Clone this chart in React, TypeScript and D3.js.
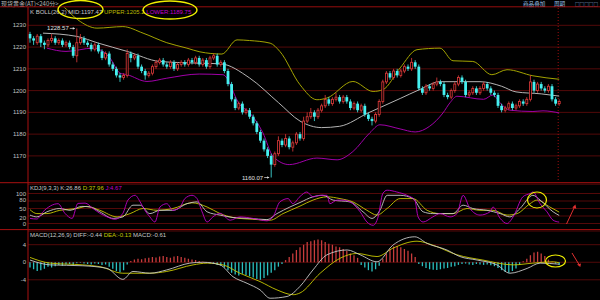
import React from 'react';
import * as d3 from 'd3';

// [open, high, low, close]
const candles: [number, number, number, number][] = [
  [1226,1227,1222,1224],[1224,1225,1221,1223],[1222,1226,1221,1225],[1225,1226,1220,1222],
  [1222,1223,1219,1221],[1221,1224,1220,1223],[1223,1226,1222,1224],[1224,1225,1221,1222],
  [1222,1224,1221,1223],[1223,1224,1220,1221],[1221,1223,1220,1222],[1222,1223,1219,1220],
  [1220,1221,1215,1216],[1216,1228.57,1213,1222],[1222,1226,1221,1224],[1224,1225,1221,1222],
  [1222,1223,1220,1221],[1221,1222,1218,1219],[1219,1222,1218,1221],[1221,1222,1217,1218],
  [1218,1219,1214,1215],[1215,1218,1214,1217],[1217,1218,1211,1212],[1212,1213,1209,1210],
  [1210,1211,1206,1207],[1207,1208,1204,1206],[1206,1208,1205,1207],[1207,1219,1206,1217],
  [1217,1218,1213,1215],[1215,1217,1214,1216],[1216,1217,1210,1211],[1211,1212,1208,1209],
  [1209,1210,1205,1207],[1207,1209,1206,1208],[1208,1212,1207,1211],[1211,1214,1210,1213],
  [1213,1215,1212,1214],[1214,1215,1211,1212],[1212,1213,1210,1211],[1211,1214,1210,1213],
  [1213,1214,1209,1210],[1210,1213,1209,1212],[1212,1214,1211,1213],[1213,1214,1211,1212],
  [1212,1215,1211,1214],[1214,1215,1212,1213],[1213,1216,1212,1215],[1215,1216,1211,1212],
  [1212,1215,1211,1214],[1214,1215,1210,1211],[1211,1216,1210,1215],[1215,1217,1214,1216],
  [1216,1217,1211,1212],[1212,1214,1211,1213],[1213,1214,1208,1209],[1209,1210,1202,1203],
  [1203,1204,1195,1196],[1196,1197,1191,1192],[1192,1195,1191,1194],[1194,1195,1189,1190],
  [1190,1192,1189,1191],[1191,1192,1187,1188],[1188,1189,1184,1185],[1185,1186,1180,1181],
  [1181,1182,1176,1177],[1177,1178,1172,1173],[1173,1174,1169,1170],[1170,1171,1160.07,1166],
  [1166,1172,1165,1171],[1171,1179,1170,1177],[1177,1178,1174,1175],[1175,1180,1174,1178],
  [1178,1179,1173,1174],[1174,1177,1172,1176],[1176,1181,1175,1180],[1180,1181,1177,1178],
  [1178,1188,1177,1186],[1186,1190,1185,1188],[1188,1192,1187,1190],[1190,1191,1186,1188],
  [1188,1192,1187,1191],[1191,1194,1190,1193],[1193,1198,1192,1196],[1196,1197,1193,1194],
  [1194,1197,1193,1196],[1196,1199,1195,1197],[1197,1198,1194,1195],[1195,1198,1194,1197],
  [1197,1198,1194,1195],[1195,1196,1191,1192],[1192,1195,1191,1194],[1194,1195,1190,1191],
  [1191,1194,1190,1193],[1193,1194,1188,1189],[1189,1190,1186,1187],[1187,1188,1184,1186],
  [1186,1190,1185,1189],[1189,1196,1188,1195],[1195,1205,1194,1204],[1204,1209,1203,1208],
  [1208,1209,1205,1206],[1206,1210,1205,1209],[1209,1210,1206,1207],[1207,1210,1206,1209],
  [1209,1212,1208,1211],[1211,1212,1209,1210],[1210,1215,1209,1213],[1213,1214,1210,1211],
  [1211,1212,1200,1201],[1201,1202,1198,1199],[1199,1203,1198,1202],[1202,1203,1200,1201],
  [1201,1204,1200,1203],[1203,1206,1202,1204],[1204,1205,1202,1203],[1203,1204,1197,1198],
  [1198,1199,1196,1197],[1197,1201,1196,1200],[1200,1204,1199,1203],[1203,1207,1202,1206],
  [1206,1207,1203,1204],[1204,1205,1197,1198],[1198,1200,1197,1199],[1199,1202,1198,1201],
  [1201,1202,1198,1199],[1199,1202,1198,1201],[1201,1204,1200,1203],[1203,1204,1200,1201],
  [1201,1202,1198,1199],[1199,1200,1197,1198],[1198,1199,1192,1193],[1193,1194,1190,1191],
  [1191,1193,1190,1192],[1192,1195,1191,1194],[1194,1195,1191,1192],[1192,1194,1191,1193],
  [1193,1196,1192,1195],[1195,1196,1193,1194],[1194,1197,1193,1196],[1196,1207,1195,1204],
  [1204,1205,1199,1200],[1200,1204,1199,1203],[1203,1204,1200,1201],[1201,1202,1199,1200],
  [1200,1203,1199,1202],[1202,1203,1195,1196],[1196,1197,1193,1194],[1194,1196,1193,1195],
];

// [bar index, value]
const bollUpper: [number, number][] = [
  [4,1244],[9,1239],[13.3,1232.5],[18.6,1228.7],[25.8,1229.4],[31.4,1226.4],[38,1222],[43.6,1219.5],
  [47.2,1217.8],[53.3,1216.8],[57.5,1223.3],[61,1223],[66.7,1221.8],[69.4,1218],[75,1202.7],
  [79.7,1195.8],[82.5,1196.6],[89.7,1204.2],[95.3,1199.6],[98,1200.4],[102.8,1210.4],[107.5,1218.8],
  [113.9,1219.5],[117.5,1213.7],[123,1213.4],[128.3,1207.3],[132.5,1209.6],[139.7,1206.8],[147,1205.2],
];
const bollMid: [number, number][] = [
  [3.6,1226.4],[13,1224.9],[19,1221.8],[27,1218],[36,1213.4],[47,1212.6],[53,1212.3],[61,1205.8],
  [69,1194.5],[75,1186],[81,1183],[86,1183.6],[94,1189.8],[103,1196.5],[108,1200.3],[114,1204.1],
  [125,1204.1],[131,1202],[135,1199.4],[142,1198.5],[147,1197.47],
];
const bollLower: [number, number][] = [
  [4.7,1219.5],[10,1218],[17.5,1219.5],[22.2,1215],[25,1208],[27,1207.3],[32.5,1204.2],[38,1205.7],
  [47,1207.6],[53.6,1207.3],[58.3,1193.5],[61,1189.8],[64.7,1180.6],[67.5,1169.8],[72,1166],
  [79.7,1169],[85.3,1168.2],[89.7,1172],[94.4,1180.6],[97.2,1184.3],[102.8,1182.4],[107,1181],
  [111,1183.6],[114.7,1189.7],[116.7,1194.5],[118.6,1197.4],[126,1196],[128.6,1198],[130.5,1194.5],
  [133.3,1191],[139.7,1190.4],[142.5,1190.7],[147,1189.75],
];

const kdjK: [number, number][] = [
  [0,28],[1.9,22],[4.7,39],[8.3,50],[11.1,44],[14.4,57],[16.7,55],[19.4,39],[23.1,17],[25.8,22],
  [28.6,61],[30.6,61],[33.3,33],[36.1,44],[39.7,44],[43.6,66],[46.4,72],[49.2,39],[52.8,28],[56.4,20],
  [61.1,17],[65.8,13],[68.6,33],[72.2,55],[75,70],[78.6,89],[81.4,94],[84.2,78],[88.9,72],[92.5,39],
  [95,17],[97.2,44],[99.2,94],[102.8,94],[106.4,83],[109.2,39],[111.9,33],[117.5,33],[120.3,61],
  [123,50],[126.9,44],[130.6,33],[133.3,22],[136.1,50],[139.7,94],[141.7,78],[145.3,39],[147,26.86],
];
const kdjD: [number, number][] = [
  [0,46],[1.9,33],[4.7,33],[8.3,44],[13.1,50],[15.8,57],[19.4,44],[24.2,22],[27.8,33],[31.4,50],
  [35.3,44],[39.7,50],[45,69],[49.2,55],[52.8,33],[56.4,20],[61.9,14],[66.7,11],[70.3,33],[75,58],
  [78.6,78],[82.5,89],[86.1,83],[89.7,72],[93.6,44],[96.4,28],[99.2,50],[102.8,83],[106.4,83],
  [110.3,44],[113.9,33],[117.5,33],[121.4,50],[125,44],[128.6,44],[132.5,28],[135.3,33],[138.9,66],
  [140.8,78],[144.4,55],[147,37.96],
];
const kdjJ: [number, number][] = [
  [0,17],[1.9,15],[3.6,39],[7.8,66],[9.7,34],[11.7,17],[13.3,67],[15.3,68],[17.5,50],[19.4,34],
  [21.4,22],[23.6,14],[25.8,34],[27.2,78],[29.2,94],[30.6,72],[31.9,44],[33.3,22],[34.7,5],[36.1,55],
  [38,66],[39.7,44],[41.7,55],[43,83],[45,94],[46.4,83],[47.8,39],[49.2,5],[50.8,22],[52.8,34],
  [55.6,11],[58.3,22],[61.9,17],[65.8,9],[67.5,22],[69.4,72],[71.7,83],[73,66],[75,90],[76.9,105],
  [78.6,89],[80.6,94],[82.5,94],[83.3,66],[85.3,78],[86.9,78],[88.9,72],[91.7,39],[93.6,5],[95.3,-6],
  [96.7,22],[98,100],[99.2,111],[101.9,105],[104.7,94],[106.9,78],[107.8,22],[109.2,5],[111.9,22],
  [113.9,33],[116.7,22],[118.6,33],[120.3,94],[122.2,50],[125,28],[127.8,39],[128.6,55],[130.6,17],
  [132.5,0],[134.2,22],[136.9,89],[138.9,100],[139.7,105],[141.7,66],[143.6,39],[145.3,11],[147,4.67],
];

const macdDiff: [number, number][] = [
  [0,0.5],[5.6,-0.6],[14.7,-0.8],[21.4,-1.4],[25.8,-3.9],[28.6,-2.1],[33.3,-2.5],[38,-1.75],[44.4,-0.2],
  [48,0],[52.8,-0.6],[56.4,-3.3],[60.3,-4.8],[63.9,-6.3],[66.7,-8.2],[71.4,-7.8],[75,-5.5],[78.6,-1.75],
  [82.5,1.7],[88.1,2.8],[91.7,1.7],[96.4,0.1],[100.8,3.9],[106.9,5.8],[110.3,4.3],[115.8,2.8],
  [119.4,1.3],[124.2,0.5],[129.7,-0.6],[133.3,-2.5],[138.1,-1.4],[141.7,-0.2],[147,-0.44],
];
const macdDea: [number, number][] = [
  [0,1.1],[5.6,-0.2],[14.7,-0.6],[19.4,-1.0],[25.8,-2.5],[33.3,-2.5],[38,-2.1],[45.3,-0.6],[49.2,-0.2],
  [53.6,-0.6],[58.3,-2.5],[63.9,-4.4],[68.6,-6.3],[73.1,-7.4],[75,-7.0],[80.6,-2.5],[86.1,0.9],
  [90.8,2.0],[96.4,1.3],[100.8,3.2],[107.5,4.8],[111.9,3.9],[118.6,1.7],[125.8,0.5],[134.2,-0.6],
  [139.7,-0.2],[145.3,0.1],[147,-0.13],
];
const macdHist: number[] = [
  -1.2,-1.6,-2.0,-1.8,-1.5,-1.0,-1.2,-0.9,-0.6,-0.8,-0.5,-0.4,-0.6,
  -0.2,-0.1,-0.3,-0.4,-0.5,-0.3,-0.4,
  -0.6,-0.5,-1.0,-1.5,-2.0,-2.3,-1.8,-0.5,
  0.3,0.6,0.8,0.7,0.9,1.0,1.2,1.1,1.3,1.4,1.2,1.0,1.3,1.4,1.2,1.0,0.8,0.6,0.5,0.3,
  0.1,-0.1,-0.2,
  -0.4,-0.6,-0.8,-1.2,-1.8,-2.4,-2.8,-3.0,-2.6,-2.9,-3.2,-3.5,-3.8,-4.0,-3.6,-3.0,-2.4,-1.8,-1.0,-0.4,
  0.5,1.2,2.0,2.8,3.4,4.0,4.6,4.8,5.0,5.2,5.0,4.6,4.2,4.0,3.6,3.4,3.0,2.6,2.0,1.6,1.0,
  -0.6,-1.2,-1.8,-2.1,-1.6,-0.8,
  0.8,2.0,3.0,3.6,3.7,3.4,3.0,2.6,2.0,1.2,
  -0.4,-0.9,-1.3,-1.6,-1.7,-1.75,-1.6,-1.4,-1.3,-1.0,-0.9,-0.6,-0.4,
  -0.3,-0.5,-0.6,-0.4,-0.5,-0.6,-0.5,-0.7,-0.9,-1.3,
  -1.8,-2.2,-2.4,-2.0,-1.4,-0.6,
  0.2,
  0.8,1.6,2.2,2.4,2.0,1.4,
  0.6,0.1,-0.3,-0.61,
];

const priceTicks = [1230, 1220, 1210, 1200, 1190, 1180, 1170];
const kdjTicks = [100, 80, 50, 20, 0];
const kdjGrid = [100, 75, 50, 25, 0];
const macdTicks = [4, 0, -4];
const highMark = { index: 13, value: 1228.57 };
const lowMark = { index: 67, value: 1160.07 };
const bollLegend = { mid: 1197.47, upper: 1205.2, lower: 1189.75 };
const kdjLegend = { k: 26.86, d: 37.96, j: 4.67 };
const macdLegend = { diff: -0.44, dea: -0.13, macd: -0.61 };
const titleText = '现货黄金(AT)<240分>';
const headerButtons = ['商品叠加', '周期', '□□□□□'];

const RED = '#e23b3b';
const CYAN = '#45f0f0';
const GRID = '#5c0a0a';
const BORDER = '#a81010';
const FONT = '"Liberation Sans", Arial, sans-serif';
const CJK = '"Noto Sans CJK SC", sans-serif';

export default function App() {
  const W = 600, H = 300;
  const x = d3.scaleLinear().domain([0, candles.length - 1]).range([30, 559.2]);
  const yP = d3.scaleLinear().domain([1170, 1230]).range([155.9, 25.3]);
  const yK = d3.scaleLinear().domain([0, 100]).range([223.5, 193.5]);
  const yM = d3.scaleLinear().domain([-4, 4]).range([279.8, 244.7]);

  const mkLine = (ys: d3.ScaleLinear<number, number>) =>
    d3.line<[number, number]>().x(d => x(d[0])).y(d => ys(d[1])).curve(d3.curveMonotoneX);
  const lineP = mkLine(yP);
  const lineK = mkLine(yK);
  const lineM = mkLine(yM);

  const bw = 2.8;
  const left = 28;
  const btnX = [523, 554, 575];
  const btnF = [5.6, 5.6, 4.6];

  return (
    <svg width={W} height={H} style={{ position: 'absolute', left: 0, top: 0, background: '#000', display: 'block' }}>
      <defs>
        <clipPath id="cMain"><rect x={left + 0.5} y={7.5} width={W - left} height={175} /></clipPath>
        <clipPath id="cKdj"><rect x={left + 0.5} y={184} width={W - left} height={45} /></clipPath>
        <clipPath id="cMacd"><rect x={left + 0.5} y={230.5} width={W - left} height={70} /></clipPath>
      </defs>
      <rect x={0} y={0} width={W} height={H} fill="#000" />

      {/* header */}
      <text x={1} y={5.5} fontSize={6} fill="#b8b8b8" fontFamily={CJK}>{titleText}</text>
      {headerButtons.map((t, i) => (
        <text key={t} x={btnX[i]} y={5.8} fontSize={btnF[i]} fill="#9fc3e8" fontFamily={CJK}>{t}</text>
      ))}
      <line x1={0} x2={W} y1={6.8} y2={6.8} stroke={BORDER} strokeWidth={0.9} />

      {/* grid main */}
      {priceTicks.map(v => (
        <g key={v}>
          <line x1={left} x2={W} y1={yP(v)} y2={yP(v)} stroke={GRID} strokeWidth={0.9} />
          <text x={26} y={yP(v) + 2} fontSize={6} textAnchor="end" fill="#c0c0c0" fontFamily={FONT}>{v}</text>
        </g>
      ))}
      {/* grid kdj */}
      <line x1={left} x2={W} y1={184.2} y2={184.2} stroke={GRID} strokeWidth={0.9} />
      {kdjGrid.map(v => (
        <line key={v} x1={left} x2={W} y1={yK(v)} y2={yK(v)} stroke={GRID} strokeWidth={0.9} />
      ))}
      {kdjTicks.map(v => (
        <text key={v} x={26} y={yK(v) + 2} fontSize={6} textAnchor="end" fill="#c0c0c0" fontFamily={FONT}>{v}</text>
      ))}
      {/* grid macd */}
      {macdTicks.map(v => (
        <g key={v}>
          <line x1={left} x2={W} y1={yM(v)} y2={yM(v)} stroke={GRID} strokeWidth={0.9} />
          <text x={26} y={yM(v) + 2} fontSize={6} textAnchor="end" fill="#c0c0c0" fontFamily={FONT}>{v}</text>
        </g>
      ))}

      {/* borders */}
      <line x1={0} x2={W} y1={182.7} y2={182.7} stroke={BORDER} strokeWidth={1} />
      <line x1={0} x2={W} y1={229.6} y2={229.6} stroke={BORDER} strokeWidth={1} />
      <line x1={left} x2={W} y1={231} y2={231} stroke={GRID} strokeWidth={0.9} />
      <line x1={left} x2={left} y1={7} y2={H} stroke={BORDER} strokeWidth={1} />

      {/* main panel */}
      <g clipPath="url(#cMain)">
        <line x1={x(candles.length - 1) - 1} x2={x(candles.length - 1) - 1} y1={8} y2={182}
          stroke="#b01010" strokeWidth={0.9} strokeDasharray="1,2" />
        <path d={lineP(bollUpper) || ''} fill="none" stroke="#a3a300" strokeWidth={1} />
        <path d={lineP(bollMid) || ''} fill="none" stroke="#b4b4b4" strokeWidth={1} />
        <path d={lineP(bollLower) || ''} fill="none" stroke="#a000a8" strokeWidth={1} />
        {candles.map(([o, h, l, c], i) => {
          const cx = x(i);
          const up = c >= o;
          const top = yP(Math.max(o, c));
          const bot = yP(Math.min(o, c));
          const col = up ? RED : CYAN;
          return (
            <g key={i}>
              <line x1={cx} x2={cx} y1={yP(h)} y2={yP(l)} stroke={col} strokeWidth={0.8} />
              {up ? (
                <rect x={cx - bw / 2 + 0.4} y={top} width={bw - 0.8} height={Math.max(0.6, bot - top)}
                  fill="#000" stroke={col} strokeWidth={0.8} />
              ) : (
                <rect x={cx - bw / 2} y={top} width={bw} height={Math.max(0.8, bot - top)} fill={col} />
              )}
            </g>
          );
        })}
        {/* extremes */}
        <text x={x(highMark.index) - 8} y={yP(highMark.value) + 2} fontSize={6} textAnchor="end" fill="#e0e0e0" fontFamily={FONT}>{highMark.value.toFixed(2)}</text>
        <line x1={x(highMark.index) - 7} x2={x(highMark.index) - 2} y1={yP(highMark.value)} y2={yP(highMark.value)} stroke="#e0e0e0" strokeWidth={0.7} />
        <text x={x(lowMark.index) - 8} y={yP(lowMark.value) + 2} fontSize={6} textAnchor="end" fill="#e0e0e0" fontFamily={FONT}>{lowMark.value.toFixed(2)}</text>
        <line x1={x(lowMark.index) - 7} x2={x(lowMark.index) - 2} y1={yP(lowMark.value)} y2={yP(lowMark.value)} stroke="#e0e0e0" strokeWidth={0.7} />
        <path d={`M${x(lowMark.index) - 2},${yP(lowMark.value)} l-2,-1.3 l0,2.6 z`} fill="#e0e0e0" />
        <path d={`M${x(highMark.index) - 2},${yP(highMark.value)} l-2,-1.3 l0,2.6 z`} fill="#e0e0e0" />
      </g>

      {/* main legend */}
      <text x={30} y={14} fontSize={6} fontFamily={FONT}>
        <tspan fill="#c8c8c8">K  BOLL(26,2) </tspan>
        <tspan fill="#c8c8c8">MID:{bollLegend.mid} </tspan>
        <tspan fill="#b8b800">UPPER:{bollLegend.upper} </tspan>
        <tspan fill="#c000c8">LOWER:{bollLegend.lower}</tspan>
      </text>

      {/* KDJ */}
      <g clipPath="url(#cKdj)">
        <path d={lineK(kdjD) || ''} fill="none" stroke="#c8c800" strokeWidth={0.9} />
        <path d={lineK(kdjK) || ''} fill="none" stroke="#c8c8c8" strokeWidth={0.9} />
        <path d={lineK(kdjJ) || ''} fill="none" stroke="#c000c8" strokeWidth={0.9} />
      </g>
      <text x={30} y={189.5} fontSize={6} fontFamily={FONT}>
        <tspan fill="#c8c8c8">KDJ(9,3,3) K:{kdjLegend.k} </tspan>
        <tspan fill="#c8c800">D:{kdjLegend.d} </tspan>
        <tspan fill="#c000c8">J:{kdjLegend.j}</tspan>
      </text>

      {/* MACD */}
      <g clipPath="url(#cMacd)">
        {macdHist.map((v, i) => (
          <line key={i} x1={x(i)} x2={x(i)} y1={yM(0)} y2={yM(v)}
            stroke={v >= 0 ? '#c83c3c' : '#2cc0c0'} strokeWidth={1.3} />
        ))}
        <path d={lineM(macdDea) || ''} fill="none" stroke="#c8c800" strokeWidth={0.9} />
        <path d={lineM(macdDiff) || ''} fill="none" stroke="#c8c8c8" strokeWidth={0.9} />
      </g>
      <text x={30} y={237} fontSize={6} fontFamily={FONT}>
        <tspan fill="#c8c8c8">MACD(12,26,9) DIFF:{macdLegend.diff} </tspan>
        <tspan fill="#c8c800">DEA:{macdLegend.dea} </tspan>
        <tspan fill="#c8c8c8">MACD:{macdLegend.macd}</tspan>
      </text>

      {/* annotations */}
      <ellipse cx={80.5} cy={9.5} rx={22.5} ry={9} fill="none" stroke="#f0f000" strokeWidth={1.4} />
      <ellipse cx={170} cy={10} rx={27} ry={9} fill="none" stroke="#f0f000" strokeWidth={1.4} />
      <ellipse cx={537} cy={200} rx={9.5} ry={8} fill="none" stroke="#f0f000" strokeWidth={1.2} />
      <ellipse cx={555.5} cy={261} rx={10} ry={6} fill="none" stroke="#f0f000" strokeWidth={1.2} />
      <line x1={566.5} y1={224} x2={574.5} y2={207} stroke="#e03030" strokeWidth={1} />
      <path d="M575.5,204.5 L572.3,207.6 L576.3,208.8 Z" fill="#e03030" />
      <line x1={572} y1={253} x2={579} y2={264.5} stroke="#e03030" strokeWidth={1} />
      <path d="M580.3,267 L577,264.6 L581,263.4 Z" fill="#e03030" />
    </svg>
  );
}
